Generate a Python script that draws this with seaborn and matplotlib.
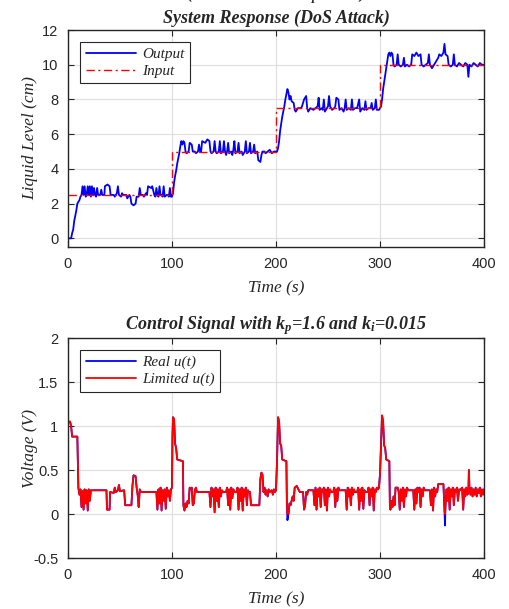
"""Two-panel system response / control signal chart in a MATLAB-like style."""

import matplotlib

matplotlib.use("Agg")
import matplotlib.pyplot as plt
import numpy as np
import pandas as pd
import seaborn as sns
from matplotlib.ticker import FormatStrFormatter, MultipleLocator

# Reference input (step changes of the setpoint), cm.
ref_t = [0, 100, 200, 300, 400]
ref_level = [2.5, 5.0, 7.5, 10.0, 10.0]

output_points = [
    (0, 0.0), (3, 0.0), (4, 0.3), (5, 0.5), (6, 1.0), (7, 1.3), (8, 1.6), (9, 2.0),
    (10, 2.1), (11, 2.2), (12, 2.4), (13, 2.5), (14, 3.0), (15, 2.5), (16, 3.0),
    (17, 2.4), (18, 2.5), (19, 3.0), (20, 2.5), (21, 3.0), (22, 2.4), (23, 3.0),
    (24, 2.5), (25, 2.9), (26, 2.5), (27, 2.4), (28, 2.9), (29, 2.5), (31, 2.5),
    (32, 2.8), (33, 2.5), (35, 2.5), (35.5, 3.0), (38, 3.1), (40, 3.0), (41, 2.5),
    (44, 2.5), (45, 2.4), (47, 2.6), (48, 3.0), (49, 2.5), (51, 2.4), (52, 2.6),
    (53, 2.5), (56, 2.5), (57, 2.3), (58, 2.4), (59, 2.5), (60, 2.4), (61, 2.0),
    (63, 1.9), (65, 2.0), (66, 2.4), (68, 2.4), (69, 2.9), (70, 2.5), (72, 2.5),
    (73, 2.4), (75, 2.6), (76, 2.5), (77, 3.0), (80, 2.9), (81, 3.0), (83, 2.5),
    (84, 2.4), (85, 2.9), (86, 2.5), (87, 2.4), (88, 3.0), (89, 2.5), (90, 2.5),
    (91, 2.4), (92, 3.0), (93, 2.4), (95, 2.5), (96, 2.5), (97, 2.4), (98, 2.9),
    (99, 2.4), (100, 2.4),
    (101, 2.6), (102, 3.2), (103, 3.6), (104, 3.9), (105, 4.3), (106, 4.6),
    (107, 4.9), (108, 5.3), (109, 5.6), (110, 5.4), (111, 5.6), (112, 5.5),
    (113, 5.0), (114, 4.9), (116, 5.0), (117, 5.5), (119, 5.4), (120, 5.0),
    (122, 5.0), (123, 4.9), (125, 5.0), (126, 5.4), (127, 5.0), (128, 5.0),
    (129, 5.6), (132, 5.5), (134, 5.7), (136, 5.6), (137, 5.0), (138, 4.9),
    (140, 5.0), (141, 5.6), (142, 5.0), (143, 4.9), (145, 5.0), (146, 5.6),
    (147, 4.9), (149, 5.0), (150, 5.6), (151, 5.0), (152, 4.8), (153, 5.0),
    (154, 5.5), (155, 4.9), (157, 5.0), (158, 4.8), (159, 5.1), (160, 5.6),
    (161, 4.9), (163, 5.0), (164, 5.5), (165, 4.9), (167, 5.0), (168, 4.8),
    (170, 5.0), (171, 5.6), (172, 4.9), (174, 5.0), (175, 5.5), (176, 4.9),
    (178, 5.0), (179, 5.4), (180, 4.9), (182, 5.0), (183, 4.5), (185, 4.4),
    (186, 4.8), (187, 5.0), (189, 5.0), (190, 4.9), (192, 5.0), (194, 5.1),
    (196, 4.9), (198, 5.0), (200, 5.0),
    (201, 5.0), (202, 5.2), (203, 5.6), (204, 6.2), (205, 6.6), (206, 7.0),
    (207, 7.3), (208, 7.6), (209, 8.0), (210, 8.3), (211, 8.6), (212, 8.4),
    (213, 8.0), (214, 8.2), (215, 7.9), (217, 7.8), (218, 7.4), (219, 7.3),
    (221, 7.5), (224, 7.5), (225, 7.6), (227, 8.0), (229, 8.2), (230, 7.5),
    (231, 7.3), (233, 7.5), (236, 7.4), (238, 7.5), (240, 7.6), (241, 8.1),
    (242, 7.4), (244, 7.5), (245, 7.4), (246, 8.0), (247, 7.3), (249, 7.5),
    (250, 7.6), (251, 8.2), (252, 7.6), (254, 7.4), (256, 7.5), (257, 7.6),
    (258, 8.1), (260, 8.0), (261, 7.4), (263, 7.5), (265, 7.3), (266, 7.5),
    (267, 8.0), (268, 7.4), (270, 7.5), (272, 7.4), (273, 8.0), (274, 7.4),
    (276, 7.5), (278, 7.5), (280, 8.0), (281, 7.3), (283, 7.5), (285, 7.4),
    (286, 7.9), (287, 7.4), (289, 7.5), (291, 7.5), (292, 7.8), (293, 7.4),
    (295, 7.5), (296, 8.0), (297, 7.4), (299, 7.4), (300, 7.5),
    (301, 7.6), (302, 8.0), (303, 8.6), (304, 9.0), (305, 9.4), (306, 9.8),
    (307, 10.2), (308, 10.6), (309, 10.7), (310, 10.5), (311, 10.7), (312, 10.6),
    (313, 10.0), (314, 9.9), (316, 10.0), (317, 10.6), (318, 10.0), (320, 9.9),
    (322, 10.0), (323, 10.4), (324, 9.9), (326, 10.0), (328, 9.9), (330, 10.0),
    (331, 10.6), (333, 10.5), (335, 10.7), (337, 10.5), (339, 10.6), (340, 10.0),
    (342, 9.9), (344, 10.0), (346, 10.1), (347, 10.6), (348, 10.0), (350, 9.8),
    (352, 10.0), (354, 10.2), (356, 10.4), (357, 10.6), (359, 10.5), (361, 10.7),
    (362, 11.2), (363, 10.6), (365, 10.5), (366, 10.0), (368, 9.9), (370, 10.0),
    (371, 10.6), (372, 10.0), (374, 9.9), (376, 10.1), (378, 10.0), (380, 9.9),
    (382, 10.1), (384, 10.0), (385, 9.3), (386, 10.0), (388, 9.9), (390, 10.1),
    (392, 10.0), (394, 9.9), (396, 10.1), (398, 10.0), (400, 10.0),
]

# Controller output u(t) (time s, voltage V).
control_points = [
    (0, 1.05), (2, 1.05), (3, 1.0), (4, 0.88), (9, 0.88), (10, 0.3), (11, 0.22),
    (12, 0.28), (13, 0.08), (14, 0.26), (15, 0.05), (16, 0.28), (17, 0.12),
    (18, 0.27), (19, 0.04), (20, 0.28), (21, 0.15), (22, 0.27), (37, 0.27),
    (37.5, 0.05), (40, 0.05), (40.5, 0.25), (44, 0.24), (45, 0.3), (46, 0.25),
    (48, 0.27), (49, 0.33), (50, 0.26), (54, 0.27), (55, 0.1), (61, 0.1),
    (62, 0.32), (63, 0.44), (65, 0.43), (66, 0.3), (67, 0.22), (68, 0.08),
    (69, 0.28), (70, 0.25), (85, 0.25), (86, 0.05), (87, 0.28), (88, 0.12),
    (89, 0.3), (90, 0.04), (91, 0.27), (92, 0.15), (93, 0.28), (94, 0.06),
    (95, 0.3), (96, 0.2), (97, 0.27), (98, 0.15), (99, 0.28), (100, 0.3),
    (100.5, 0.9), (101, 1.1), (102, 1.08), (103, 0.8), (104, 0.75), (105, 0.62),
    (110.5, 0.6), (111, 0.1), (112, 0.04), (113, 0.12), (114, 0.08), (115, 0.15),
    (116, 0.12), (117, 0.3), (118, 0.28), (119, 0.3), (120, 0.1), (121, 0.12),
    (122, 0.27), (123, 0.3), (124, 0.25), (136, 0.25), (137, 0.08), (138, 0.3),
    (139, 0.2), (140, 0.28), (141, 0.02), (142, 0.3), (143, 0.15), (144, 0.28),
    (145, 0.08), (146, 0.3), (147, 0.2), (148, 0.27), (149, 0.25), (152, 0.25),
    (153, 0.3), (154, 0.1), (155, 0.28), (156, 0.05), (157, 0.3), (158, 0.18),
    (159, 0.28), (160, 0.25), (162, 0.25), (163, 0.3), (164, 0.05), (165, 0.28),
    (166, 0.15), (167, 0.3), (168, 0.04), (169, 0.28), (170, 0.2), (171, 0.3),
    (172, 0.1), (173, 0.27), (174, 0.25), (175, 0.25), (176, 0.1), (184, 0.1),
    (185, 0.4), (186, 0.47), (187, 0.45), (188, 0.25), (189, 0.3), (190, 0.22),
    (191, 0.27), (192, 0.2), (193, 0.28), (194, 0.25), (196, 0.27), (197, 0.22),
    (198, 0.28), (199, 0.25), (200, 0.27),
    (201, 0.6), (202, 1.1), (203, 1.05), (204, 0.8), (205, 0.78), (206, 0.62),
    (210, 0.6), (210.5, 0.1), (211, -0.07), (212, 0.0), (213, 0.12), (214, 0.1),
    (215, 0.15), (216, 0.2), (217, 0.15), (218, 0.3), (220, 0.32), (222, 0.27),
    (223, 0.25), (226, 0.25), (227, 0.05), (228, 0.1), (229, 0.25), (230, 0.22),
    (231, 0.27), (236, 0.27), (237, 0.1), (238, 0.3), (239, 0.05), (240, 0.28),
    (241, 0.2), (242, 0.3), (243, 0.08), (244, 0.28), (245, 0.25), (246, 0.3),
    (247, 0.1), (248, 0.28), (249, 0.04), (250, 0.3), (251, 0.2), (252, 0.28),
    (253, 0.25), (255, 0.25), (256, 0.3), (257, 0.08), (258, 0.28), (259, 0.15),
    (260, 0.3), (261, 0.27), (267, 0.27), (268, 0.05), (269, 0.3), (270, 0.2),
    (271, 0.28), (272, 0.1), (273, 0.3), (274, 0.22), (275, 0.28), (276, 0.25),
    (278, 0.25), (279, 0.3), (280, 0.05), (281, 0.28), (282, 0.15), (283, 0.3),
    (284, 0.06), (285, 0.27), (286, 0.25), (288, 0.25), (289, 0.3), (290, 0.1),
    (291, 0.28), (292, 0.2), (293, 0.3), (294, 0.04), (295, 0.28), (296, 0.25),
    (297, 0.3), (298, 0.28), (299, 0.3), (300, 0.45),
    (301, 0.8), (302, 1.12), (303, 1.05), (304, 0.78), (305, 0.75), (306, 0.62),
    (309, 0.6), (309.5, 0.1), (310, 0.05), (311, 0.15), (312, 0.08), (313, 0.2),
    (314, 0.1), (315, 0.3), (317, 0.3), (318, 0.25), (319, 0.05), (320, 0.28),
    (321, 0.15), (322, 0.3), (323, 0.08), (324, 0.28), (325, 0.2), (326, 0.3),
    (327, 0.27), (332, 0.27), (333, 0.05), (334, 0.28), (335, 0.12), (336, 0.3),
    (337, 0.25), (338, 0.3), (339, 0.08), (340, 0.28), (341, 0.2), (342, 0.3),
    (343, 0.27), (348, 0.27), (349, 0.1), (350, 0.28), (351, 0.04), (352, 0.3),
    (353, 0.2), (354, 0.28), (355, 0.25), (356, 0.34), (361, 0.34), (362, 0.05),
    (362.5, -0.13), (363, 0.1), (364, 0.28), (365, 0.15), (366, 0.3), (367, 0.05),
    (368, 0.28), (369, 0.2), (370, 0.3), (371, 0.1), (372, 0.28), (373, 0.25),
    (374, 0.3), (375, 0.15), (376, 0.28), (377, 0.27), (379, 0.3), (380, 0.05),
    (381, 0.28), (382, 0.2), (383, 0.3), (384, 0.22), (385, 0.25), (385.5, 0.5),
    (386, 0.3), (387, 0.22), (388, 0.3), (389, 0.2), (390, 0.28), (391, 0.22),
    (392, 0.3), (393, 0.2), (394, 0.28), (395, 0.24), (396, 0.3), (397, 0.2),
    (398, 0.28), (399, 0.22), (400, 0.28),
]

# Actuator saturation limits applied to u(t), V.
u_min, u_max = 0.0, 5.0

out_df = pd.DataFrame(output_points, columns=["t", "level"])
ref_df = pd.DataFrame({"t": ref_t, "level": ref_level})
ctl_df = pd.DataFrame(control_points, columns=["t", "u"])
ctl_df["u_lim"] = np.clip(ctl_df["u"], u_min, u_max)

# MATLAB-ish look.
sns.set_theme(style="whitegrid")
plt.rcParams["font.family"] = ["Liberation Sans", "DejaVu Sans"]
plt.rcParams["mathtext.default"] = "regular"

serif = "Liberation Serif"
tick_color = "#262626"
grid_color = "#e0e0e0"

fig = plt.figure(figsize=(5.1, 6.09), dpi=100)
ax1 = fig.add_axes([0.1333, 0.5944, 0.8157, 0.3563])
ax2 = fig.add_axes([0.1333, 0.0837, 0.8157, 0.3612])

sns.lineplot(data=out_df, x="t", y="level", ax=ax1, color="#0000ff",
             linewidth=1.3, estimator=None, sort=False, label="Output")
sns.lineplot(data=ref_df, x="t", y="level", ax=ax1, color="#ff0000",
             linewidth=1.0, estimator=None, sort=False, label="Input",
             drawstyle="steps-post", dashes=False)
ax1.lines[-1].set_linestyle((0, (6, 2.5, 1.5, 2.5)))

sns.lineplot(data=ctl_df, x="t", y="u", ax=ax2, color="#0000ff",
             linewidth=1.3, estimator=None, sort=False, label="Real u(t)")
sns.lineplot(data=ctl_df, x="t", y="u_lim", ax=ax2, color="#ff0000",
             linewidth=1.3, estimator=None, sort=False, label="Limited u(t)")

ax1.set_xlim(0, 400)
ax1.set_ylim(-0.5, 12)
ax1.yaxis.set_major_locator(MultipleLocator(2))
ax2.set_xlim(0, 400)
ax2.set_ylim(-0.5, 2)
ax2.yaxis.set_major_locator(MultipleLocator(0.5))
ax2.yaxis.set_major_formatter(FormatStrFormatter("%g"))

for ax in (ax1, ax2):
    ax.xaxis.set_major_locator(MultipleLocator(100))
    ax.set_facecolor("white")
    ax.grid(True, color=grid_color, linewidth=0.9)
    for sp in ax.spines.values():
        sp.set_color("#262626")
        sp.set_linewidth(1.0)
    ax.tick_params(direction="in", length=4, width=0.8, top=True, right=True,
                   bottom=True, left=True, labelsize=10.5, colors=tick_color,
                   pad=7)
    ax.set_xlabel("Time (s)", family=serif, style="italic", fontsize=12.5,
                  color=tick_color, labelpad=7)
    leg = ax.legend(loc="upper left", prop={"family": serif, "style": "italic",
                                          "size": 11},
                    frameon=True, fancybox=False, framealpha=1,
                    edgecolor="#262626", borderaxespad=0.8, handlelength=3.3,
                    handletextpad=0.4, borderpad=0.35, labelspacing=0.2)
    leg.get_frame().set_linewidth(0.8)

ax1.set_ylabel("Liquid Level (cm)", family=serif, style="italic",
               fontsize=12.5, color=tick_color)
ax2.set_ylabel("Voltage (V)", family=serif, style="italic", fontsize=12.5,
               color=tick_color)
ax1.yaxis.set_label_coords(-0.072, 0.5)
ax2.yaxis.set_label_coords(-0.072, 0.5)

ax1.set_title("System Response (DoS Attack)", family=serif, style="italic",
              weight="bold", fontsize=13, pad=5)
ax2.set_title("Control Signal with k$_p$=1.6 and k$_i$=0.015", family=serif,
              style="italic", weight="bold", fontsize=13, pad=6)

# Upper title line, cut off by the top edge of the figure as in the source.
fig.text(0.541, 1.0 + 2.0 / 609, "(k$_i$ = 0.015 and k$_p$ = 1.6)",
         family=serif, style="italic", weight="bold", fontsize=13,
         ha="center", va="baseline")

fig.savefig("out.png", dpi=100, facecolor="white")
plt.close(fig)
